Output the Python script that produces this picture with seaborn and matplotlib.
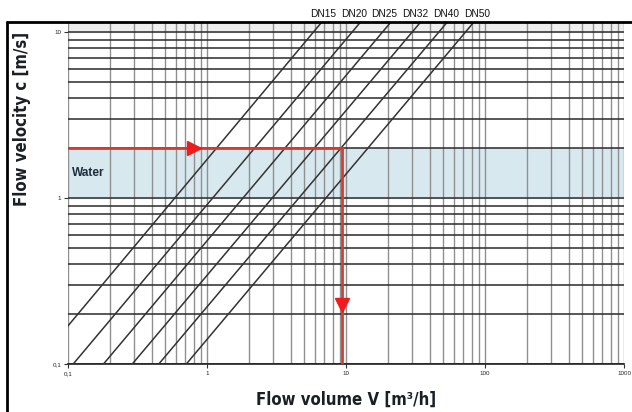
import numpy as np
import pandas as pd
import matplotlib
matplotlib.use("Agg")
import matplotlib.pyplot as plt
from matplotlib.lines import Line2D
from matplotlib.ticker import FixedLocator, NullFormatter
import seaborn as sns

# Pipe sizes and where each line sits (flow m3/h at 0.1 m/s and at 12 m/s)
dn_sizes = ["DN15", "DN20", "DN25", "DN32", "DN40", "DN50"]
flow_at_low = [0.059, 0.109, 0.18, 0.29, 0.45, 0.71]
flow_at_high = [7.0, 13.3, 22.0, 36.0, 56.0, 87.0]
velocity_ends = [0.1, 12.0]

# Water band and worked example
water_band = [1.0, 2.0]
example_flow = 9.3
example_velocity = 2.0
arrow_right_flow = 0.8
arrow_down_velocity = 0.227

x_ticks = [0.1, 1, 10, 100, 1000]
x_tick_labels = ["0,1", "1", "10", "100", "1000"]
y_ticks = [0.1, 1, 10]
y_tick_labels = ["0,1", "1", "10"]

rows = []
for name, lo, hi in zip(dn_sizes, flow_at_low, flow_at_high):
    rows.append({"dn": name, "flow": lo, "velocity": velocity_ends[0]})
    rows.append({"dn": name, "flow": hi, "velocity": velocity_ends[1]})
df = pd.DataFrame(rows)

sns.set_style("white")
plt.rcParams["font.family"] = ["Liberation Sans", "DejaVu Sans"]

fig = plt.figure(figsize=(6.32, 4.12), dpi=100)
ax = fig.add_axes([68 / 632, 1 - 364 / 412, 556 / 632, 341 / 412])
ax.set_xscale("log")
ax.set_yscale("log")
ax.set_xlim(0.1, 1000)
ax.set_ylim(0.1, 11.33)

# light grey strip above the top decade
ax.axhspan(10, 11.33, color="#efefef", zorder=0)
# water range
ax.axhspan(water_band[0], water_band[1], color="#d8e8ef", zorder=0)

# grid lines
minor_x = [m * 10.0 ** e for e in range(-1, 3) for m in range(1, 10)] + [1000]
minor_y = [m * 10.0 ** e for e in range(-1, 1) for m in range(1, 10)] + [10]
for xv in minor_x:
    ax.axvline(xv, color="#909090", lw=1.0, zorder=1)
for yv in minor_y:
    ax.axhline(yv, color="#2a2a2a", lw=1.1, zorder=1)

sns.lineplot(data=df, x="flow", y="velocity", units="dn", estimator=None,
             color="#333333", lw=1.1, ax=ax, zorder=3, legend=False)

# example path
ax.plot([0.1, example_flow], [example_velocity, example_velocity],
        color="#d83a32", lw=2, zorder=4)
ax.plot([example_flow, example_flow], [example_velocity, 0.1],
        color="#d83a32", lw=2, zorder=4)
ax.plot([arrow_right_flow], [example_velocity], marker=">", color="#ee1c1c",
        markersize=10, zorder=5)
ax.plot([example_flow], [arrow_down_velocity], marker="v", color="#ee1c1c",
        markersize=10, zorder=5)

ax.text(0.107, 1.42, "Water", fontsize=8.6, fontweight="bold",
        color="#1e2d3c", va="center", ha="left", zorder=5)

# ticks
ax.xaxis.set_major_locator(FixedLocator(x_ticks))
ax.set_xticklabels(x_tick_labels)
ax.yaxis.set_major_locator(FixedLocator(y_ticks))
ax.set_yticklabels(y_tick_labels)
ax.xaxis.set_minor_formatter(NullFormatter())
ax.yaxis.set_minor_formatter(NullFormatter())
ax.tick_params(axis="both", which="major", length=3, width=0.8,
               labelsize=4.5, pad=2, color="#333333", left=True, bottom=True)
ax.tick_params(axis="both", which="minor", length=0)
ax.set_xlabel("")
ax.set_ylabel("")

for side in ["top", "right", "left"]:
    ax.spines[side].set_visible(False)
ax.spines["bottom"].set_color("#222222")
ax.spines["bottom"].set_linewidth(1.2)

# pipe size labels above the frame
for i, name in enumerate(dn_sizes):
    fig.text((323 + 30.8 * i) / 632, 1 - 14 / 412, name, fontsize=7.3,
             ha="center", va="center", color="#111111")

fig.text(22 / 632, 1 - 119 / 412, "Flow velocity c [m/s]", rotation=90,
         fontsize=12, fontweight="bold", family="DejaVu Sans",
         fontstretch="condensed", color="#1a1f26",
         ha="center", va="center")
fig.text(346 / 632, 1 - 400 / 412, "Flow volume V [m³/h]",
         fontsize=12, fontweight="bold", family="DejaVu Sans",
         fontstretch="condensed", color="#1a1f26",
         ha="center", va="center")

# outer frame (top and left edges)
fig.add_artist(Line2D([7 / 632, 1], [1 - 22 / 412, 1 - 22 / 412],
                      color="black", lw=2))
fig.add_artist(Line2D([7 / 632, 7 / 632], [0, 1 - 22 / 412],
                      color="black", lw=2))

fig.savefig("out.png", dpi=100)
